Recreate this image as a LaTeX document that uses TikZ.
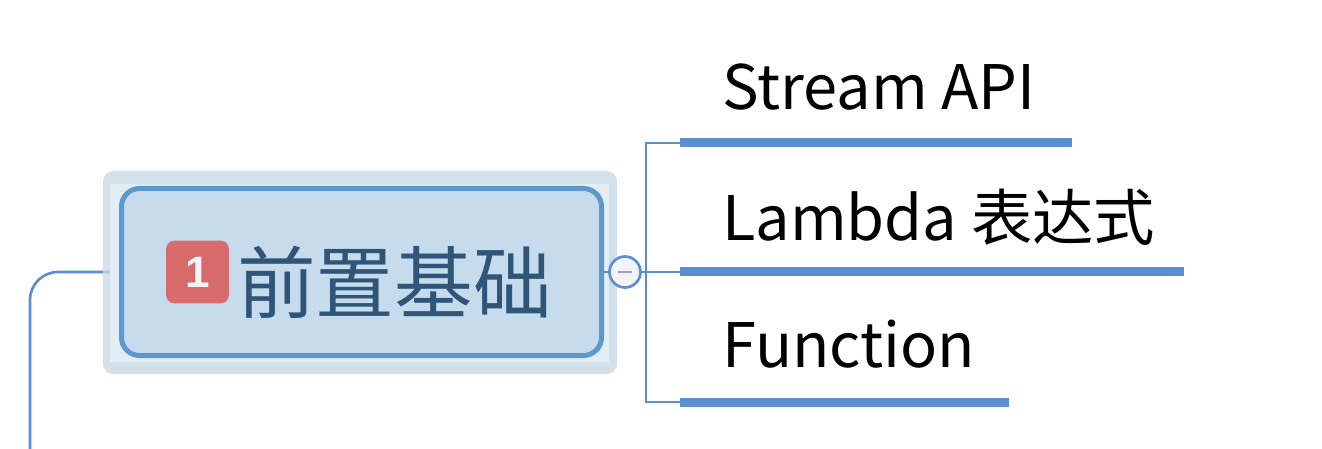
\documentclass[tikz,border=0pt]{standalone}
\usepackage{fontspec}
\setmainfont{Noto Sans CJK SC}
\newfontfamily\badgefont{Liberation Sans}
\usetikzlibrary{positioning}
\definecolor{halo}{RGB}{200,217,230}
\definecolor{haloband}{RGB}{226,238,243}
\definecolor{boxfill}{RGB}{198,220,236}
\definecolor{boxline}{RGB}{94,152,208}
\definecolor{badgered}{RGB}{216,107,107}
\definecolor{titleblue}{RGB}{47,85,121}
\definecolor{treeline}{RGB}{91,143,210}
\definecolor{minusgray}{RGB}{155,159,201}
\definecolor{knobfill}{RGB}{242,244,248}
\tikzset{
    branch/.style={draw=treeline, line width=2pt},
    bar/.style={draw=treeline, line width=6.75pt},
    item/.style={anchor=base west, inner sep=0pt, font=\fontsize{46}{54}\selectfont}
}

\begin{document}
\begin{tikzpicture}[x=0.75pt,y=-0.75pt]
        \useasboundingbox (0,0) rectangle (1322,449);
        % Nodo principale
        \node[draw=boxline, line width=3.75pt, fill=boxfill, rounded corners=13.5pt,
              minimum width=360pt, minimum height=125.25pt, inner sep=0pt] (root) at (361.5,272) {};
        \coordinate (down) at (30,449);
        % Collegamento a sinistra
        \draw[branch, rounded corners=21pt] (root.west) -| (down);
        % Alone
        \fill[halo, fill opacity=0.8, rounded corners=7.5pt] (103,171) rectangle (617,374);
        \fill[haloband] (110,184) rectangle (609,362);
        \node[draw=boxline, line width=3.75pt, fill=boxfill, rounded corners=13.5pt,
              minimum width=360pt, minimum height=125.25pt, inner sep=0pt] at (root.center) {};
        % Etichetta numerata
        \node[fill=badgered, rounded corners=6pt, minimum size=47pt, inner sep=0pt,
              text=knobfill, font=\badgefont\fontsize{33}{40}\selectfont\bfseries] (badge) at (197.5,272) {1};
        \node[anchor=base west, inner sep=0pt, text=titleblue,
              font=\fontsize{59}{70}\selectfont] (title) at (237,312) {前置基础};
        % Pulsante di chiusura
        \node[circle, draw=treeline, line width=2pt, fill=knobfill, minimum size=23.25pt,
              inner sep=0pt] (knob) at (625,272) {};
        \draw[minusgray, line width=1.5pt] ([xshift=-5.25pt]knob.center) -- ([xshift=5.25pt]knob.center);
        \draw[branch] (root.east) -- (knob.west);
        % Albero a destra
        \coordinate (j1) at (646,143);
        \coordinate (j3) at (646,402);
        \coordinate (s1) at (680,143);
        \coordinate (s2) at (680,272);
        \coordinate (s3) at (680,402);
        \coordinate (e1) at (1072,143);
        \coordinate (e2) at (1184,272);
        \coordinate (e3) at (1009,402);
        \draw[branch] (s1) -- (j1) -- (j3) -- (s3);
        \draw[branch] (knob.east) -- (s2);
        \draw[bar] (s1) -- (e1);
        \draw[bar] (s2) -- (e2);
        \draw[bar] (s3) -- (e3);
        % Etichette dei rami
        \node[item] (stream) at (722,110) {Stream API};
        \node[item] (lambda) at (722,241) {Lambda 表达式};
        \node[item] (func) at (722,368) {Function};
    \end{tikzpicture}
\end{document}
